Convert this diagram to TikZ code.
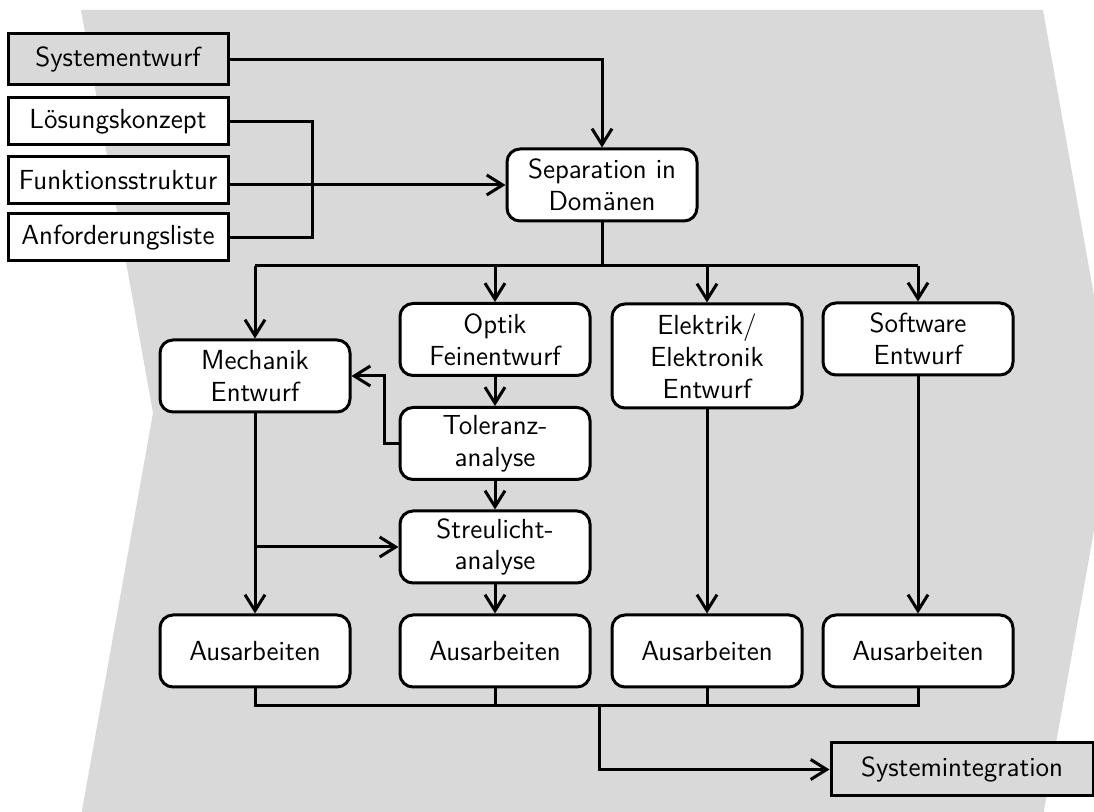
\documentclass[tikz,border=0pt]{standalone}
\usetikzlibrary{arrows.meta}
\definecolor{bandgray}{HTML}{D9D9D9}
\begin{document}
\begin{tikzpicture}[x=0.5pt,y=-0.5pt,
  txt/.style={font=\sffamily\fontsize{13.8}{15.9}\selectfont, align=center, text=black},
  rbox/.style={txt, draw, line width=1.5pt, fill=white, rounded corners=6.5pt,
               minimum width=95pt, minimum height=36pt, inner sep=1pt},
  inbox/.style={txt, draw, line width=1.5pt, fill=white, sharp corners,
               minimum width=110pt, minimum height=23.5pt, inner sep=1pt},
  keybox/.style={inbox, fill=bandgray},
  wire/.style={line width=1.5pt},
  flow/.style={wire, -{Straight Barb[length=8pt,width=10pt]}}]

% frame and background band
\useasboundingbox (0,0) rectangle (1094,812);
\begin{scope}
  \clip (0,0) rectangle (1094,812);
  \fill[bandgray] (81,10) -- (1043,10) -- (1115,413) -- (1043,816)
                  -- (81,816) -- (153,413) -- cycle;
\end{scope}

% inputs
\node[keybox, minimum height=25.5pt] (sys)  at (118,59.5)  {Systementwurf};
\node[inbox] (loes) at (118,121.5) {Lösungskonzept};
\node[inbox] (funk) at (118,180.5) {Funktionsstruktur};
\node[inbox] (anf)  at (118,237.5) {Anforderungsliste};

% separation
\node[rbox] (sep) at (602,185) {Separation in\\Domänen};

% domain design boxes
\node[rbox] (mech) at (255,376)   {Mechanik\\Entwurf};
\node[rbox] (opt)  at (495,339.5) {Optik\\Feinentwurf};
\node[rbox] (tol)  at (495,443.5) {Toleranz-\\analyse};
\node[rbox] (str)  at (495,547)   {Streulicht-\\analyse};
\node[rbox, minimum height=52pt] (elek) at (707,356) {Elektrik/\\Elektronik\\Entwurf};
\node[rbox] (soft) at (918,339)   {Software\\Entwurf};

% elaboration row
\node[rbox] (aus1) at (255,651) {Ausarbeiten};
\node[rbox] (aus2) at (495,651) {Ausarbeiten};
\node[rbox] (aus3) at (707,651) {Ausarbeiten};
\node[rbox] (aus4) at (918,651) {Ausarbeiten};

% integration
\node[keybox, minimum width=131pt, minimum height=26.5pt] (sint) at (962,769.5) {Systemintegration};

% junction points
\coordinate (jl)    at (312,180);
\coordinate (bus)   at (602,266);
\coordinate (tk)    at (384,410);
\coordinate (merge) at (599,706);

% inputs into separation
\draw[flow] (sys.east) -| (sep.north);
\draw[wire] (loes.east) -| (jl) |- (anf.east);
\draw[flow] (sep.west -| funk.east) -- (sep.west);

% distribution bus
\draw[wire] (sep.south) -- (bus);
\draw[wire] (bus -| mech.north) -- (bus -| soft.north);
\draw[flow] (bus -| mech.north) -- (mech.north);
\draw[flow] (bus -| opt.north)  -- (opt.north);
\draw[flow] (bus -| elek.north) -- (elek.north);
\draw[flow] (bus -| soft.north) -- (soft.north);

% optics chain
\draw[flow] (opt.south) -- (tol.north);
\draw[flow] (tol.south) -- (str.north);
\draw[flow] (str.south) -- (aus2.north);
\draw[flow] (tol.west) -| (tk) |- (mech.east);

% mechanics and other domains
\draw[flow] (mech.south) -- (aus1.north);
\draw[flow] (str.west -| mech.south) -- (str.west);
\draw[flow] (elek.south) -- (aus3.north);
\draw[flow] (soft.south) -- (aus4.north);

% merge into integration
\draw[wire] (aus1.south) |- (merge -| aus4.south) -- (aus4.south);
\draw[wire] (aus2.south) -- (merge -| aus2.south);
\draw[wire] (aus3.south) -- (merge -| aus3.south);
\draw[flow] (merge) |- (sint.west);
\end{tikzpicture}
\end{document}
